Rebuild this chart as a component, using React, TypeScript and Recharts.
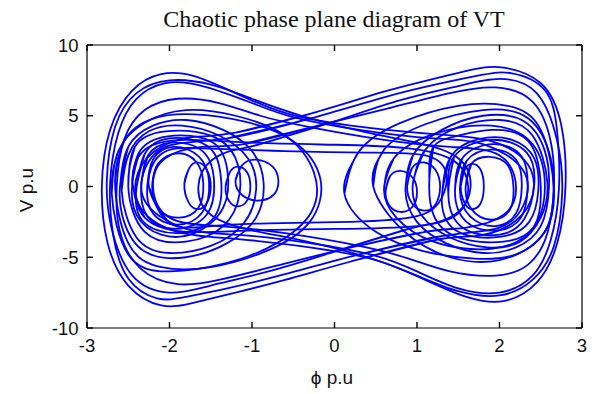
import React from 'react';
import { LineChart, Line, XAxis, YAxis } from 'recharts';

// axis ticks
const xTicks = [-3, -2, -1, 0, 1, 2, 3];
const yTicks = [-10, -5, 0, 5, 10];

// trajectory pieces read off the phase plane, [phi, V]
// left well, inner rings
const leftRing1 = [[-2.21, 0.1], [-2.14, 1.6], [-1.9, 2.35], [-1.67, 1.7], [-1.59, 0.2], [-1.65, -1.5], [-1.88, -2.2], [-2.13, -1.6], [-2.21, 0.1], [-2.14, 1.6]];
const leftRing2 = [[-2.27, 0], [-2.2, 1.9], [-1.95, 2.8], [-1.64, 2.1], [-1.52, 0.3], [-1.6, -1.8], [-1.9, -2.7], [-2.2, -1.9], [-2.27, 0], [-2.2, 1.9]];
const leftRing3 = [[-2.34, 0.2], [-2.26, 2.2], [-1.98, 3.1], [-1.6, 2.5], [-1.46, 0.4], [-1.55, -2.0], [-1.92, -3.0], [-2.27, -2.1], [-2.34, 0.2], [-2.26, 2.2]];
const leftRing4 = [[-2.4, -0.1], [-2.3, 2.3], [-2.0, 3.4], [-1.55, 2.9], [-1.38, 0.8], [-1.45, -2.1], [-1.9, -3.3], [-2.33, -2.4], [-2.4, -0.1], [-2.3, 2.3]];
const leftRing5 = [[-2.45, 0.3], [-2.36, 2.5], [-2.02, 3.55], [-1.5, 3.2], [-1.3, 1.2], [-1.35, -1.5], [-1.7, -3.3], [-2.1, -3.4], [-2.4, -2.0], [-2.45, 0.3], [-2.36, 2.5]];
const leftRing6 = [[-2.5, 0], [-2.42, 2.8], [-2.05, 3.9], [-1.5, 3.6], [-1.2, 2.0], [-1.15, -0.5], [-1.35, -2.8], [-1.8, -3.9], [-2.3, -3.2], [-2.5, 0], [-2.42, 2.8]];
// small loops near the left well
const leftSmall1 = [[-1.32, 0], [-1.27, 1.0], [-1.17, 1.4], [-1.06, 1.0], [-1.02, 0], [-1.06, -1.0], [-1.17, -1.4], [-1.28, -1.0], [-1.32, 0], [-1.27, 1.0]];
const leftSmall2 = [[-1.82, 0.2], [-1.76, 1.3], [-1.66, 1.7], [-1.55, 1.2], [-1.5, 0], [-1.55, -1.2], [-1.66, -1.6], [-1.77, -1.1], [-1.82, 0.2], [-1.76, 1.3]];
const leftSmall3 = [[-1.2, 0.4], [-1.12, 1.5], [-0.95, 1.9], [-0.75, 1.4], [-0.68, 0.4], [-0.74, -0.6], [-0.93, -1.0], [-1.12, -0.6], [-1.2, 0.4], [-1.12, 1.5]];
// right well, inner rings
const rightRing1 = [[1.59, 0], [1.66, 1.6], [1.88, 2.1], [2.1, 1.5], [2.17, -0.1], [2.12, -1.7], [1.9, -2.35], [1.66, -1.6], [1.59, 0], [1.66, 1.6]];
const rightRing2 = [[1.52, -0.2], [1.6, 1.8], [1.9, 2.6], [2.2, 1.9], [2.27, 0], [2.2, -1.9], [1.95, -2.8], [1.64, -2.1], [1.52, -0.2], [1.6, 1.8]];
const rightRing3 = [[1.46, -0.3], [1.55, 2.0], [1.92, 3.0], [2.27, 2.1], [2.34, -0.2], [2.26, -2.2], [1.98, -3.1], [1.6, -2.5], [1.46, -0.3], [1.55, 2.0]];
const rightRing4 = [[1.38, -0.6], [1.45, 2.1], [1.9, 3.3], [2.33, 2.4], [2.42, 0.1], [2.3, -2.3], [2.0, -3.4], [1.55, -2.9], [1.38, -0.6], [1.45, 2.1]];
const rightRing5 = [[1.3, -1.0], [1.4, 2.0], [1.75, 3.35], [2.15, 3.3], [2.42, 2.0], [2.47, -0.3], [2.36, -2.5], [2.02, -3.55], [1.5, -3.2], [1.3, -1.0], [1.4, 2.0]];
const rightRing6 = [[1.15, 0.5], [1.2, 2.8], [1.5, 3.6], [1.9, 4.0], [2.35, 3.2], [2.5, 0], [2.42, -2.8], [2.05, -3.9], [1.5, -3.6], [1.2, -2.0], [1.15, 0.5], [1.2, 2.8]];
// small loops near the right well
const rightSmall1 = [[0.62, -0.3], [0.67, 0.7], [0.8, 1.1], [0.95, 0.6], [1.0, -0.4], [0.95, -1.4], [0.8, -1.8], [0.66, -1.3], [0.62, -0.3], [0.67, 0.7]];
const rightSmall2 = [[0.88, 0], [0.94, 1.3], [1.08, 1.7], [1.22, 1.2], [1.28, 0], [1.22, -1.3], [1.08, -1.7], [0.94, -1.2], [0.88, 0], [0.94, 1.3]];
const rightSmall3 = [[1.53, 0], [1.58, 1.2], [1.67, 1.6], [1.77, 1.2], [1.81, 0], [1.77, -1.2], [1.67, -1.6], [1.58, -1.2], [1.53, 0], [1.58, 1.2]];
// wider single-well loops
const leftMid1 = [[-2.6, 0], [-2.5, 2.8], [-2.2, 4.3], [-1.8, 4.7], [-1.35, 4.0], [-1.0, 2.5], [-0.86, 0.3], [-0.95, -2.2], [-1.3, -4.0], [-1.8, -5.0], [-2.3, -4.6], [-2.55, -2.5], [-2.6, 0], [-2.5, 2.8]];
const leftMid2 = [[-2.66, 0.3], [-2.55, 3.2], [-2.2, 4.8], [-1.7, 5.1], [-1.1, 4.6], [-0.5, 3.2], [-0.17, 0.5], [-0.3, -2.5], [-0.8, -4.5], [-1.5, -5.7], [-2.1, -5.7], [-2.5, -4.0], [-2.66, 0.3], [-2.55, 3.2]];
const leftMid3 = [[-2.7, -0.5], [-2.62, 2.5], [-2.3, 4.5], [-1.8, 5.4], [-1.2, 5.0], [-0.6, 3.6], [-0.25, 1.0], [-0.28, -1.8], [-0.7, -4.0], [-1.3, -5.4], [-2.0, -6.0], [-2.5, -4.8], [-2.7, -0.5], [-2.62, 2.5]];
const leftMid4 = [[-2.58, -0.3], [-2.5, 2.2], [-2.25, 3.9], [-1.85, 4.3], [-1.4, 3.6], [-1.05, 2.0], [-0.95, -0.2], [-1.1, -2.6], [-1.5, -4.2], [-2.0, -4.7], [-2.4, -3.6], [-2.58, -0.3], [-2.5, 2.2]];
const rightMid1 = [[0.86, -0.3], [0.95, 2.2], [1.3, 4.0], [1.8, 5.0], [2.3, 4.6], [2.55, 2.5], [2.6, 0], [2.5, -2.8], [2.2, -4.3], [1.8, -4.7], [1.35, -4.0], [1.0, -2.5], [0.86, -0.3], [0.95, 2.2]];
const rightMid2 = [[0.12, -0.5], [0.3, 2.5], [0.8, 4.5], [1.5, 5.7], [2.1, 5.7], [2.5, 4.0], [2.66, -0.3], [2.55, -3.2], [2.2, -4.8], [1.7, -5.1], [1.1, -4.6], [0.5, -3.2], [0.12, -0.5], [0.3, 2.5]];
const rightMid3 = [[0.47, 0], [0.6, 2.6], [1.1, 4.4], [1.8, 5.4], [2.35, 4.8], [2.62, 2.0], [2.65, -1.0], [2.5, -3.6], [2.0, -5.2], [1.4, -5.0], [0.85, -3.2], [0.47, 0], [0.6, 2.6]];
const rightMid4 = [[0.6, -0.2], [0.72, 2.0], [1.2, 3.7], [1.9, 4.3], [2.4, 3.0], [2.55, 0], [2.4, -3.0], [1.9, -4.4], [1.2, -3.9], [0.75, -2.2], [0.6, -0.2], [0.72, 2.0]];
const rightMid5 = [[0.95, 0.2], [1.1, 2.6], [1.5, 4.2], [2.0, 4.7], [2.4, 3.6], [2.58, 0.3], [2.5, -2.2], [2.25, -3.9], [1.85, -4.3], [1.4, -3.6], [1.05, -2.0], [0.95, 0.2], [1.1, 2.6]];
// big swings round the left well, dropping into the right one
const swingLeft1 = [[1.2, -3.8], [0.2, -5.3], [-0.6, -6.6], [-1.2, -7.5], [-1.7, -8.2], [-2.1, -8.4], [-2.5, -7.0], [-2.75, -4.0], [-2.82, 0], [-2.72, 4.0], [-2.45, 6.8], [-2.1, 7.95], [-1.7, 7.8], [-1.2, 6.6], [-0.6, 5.2], [0.2, 4.3], [1.2, 3.7], [1.9, 3.2], [2.35, 1.5], [2.38, -1.0], [2.1, -2.8], [1.7, -3.5], [1.2, -3.8], [0.2, -5.3]];
const swingLeft2 = [[1.3, -3.5], [0.3, -4.8], [-0.6, -6.2], [-1.3, -7.2], [-1.8, -7.8], [-2.15, -7.9], [-2.5, -6.5], [-2.68, -3.5], [-2.72, 0.2], [-2.62, 3.8], [-2.4, 6.2], [-2.05, 7.3], [-1.6, 7.1], [-1.0, 5.9], [-0.5, 4.9], [0.3, 4.0], [1.2, 3.4], [1.8, 3.0], [2.28, 1.2], [2.3, -1.2], [2.0, -2.9], [1.3, -3.5], [0.3, -4.8]];
const swingLeft3 = [[1.1, -3.2], [0.2, -4.3], [-0.7, -5.6], [-1.4, -6.6], [-1.9, -6.9], [-2.35, -5.8], [-2.6, -3.2], [-2.64, 0], [-2.55, 3.3], [-2.3, 5.4], [-1.9, 6.2], [-1.4, 5.9], [-0.9, 5.0], [-0.3, 4.2], [0.6, 3.3], [1.4, 2.8], [2.0, 2.2], [2.2, 0], [2.05, -2.0], [1.6, -2.9], [1.1, -3.2], [0.2, -4.3]];
const swingLeft4 = [[0.9, -3.0], [0.0, -4.6], [-0.8, -6.0], [-1.5, -7.0], [-2.0, -7.5], [-2.45, -6.3], [-2.7, -3.0], [-2.76, 0.4], [-2.66, 4.2], [-2.4, 6.6], [-2.0, 7.5], [-1.5, 7.2], [-1.0, 6.2], [-0.4, 5.0], [0.4, 3.8], [1.0, 3.1], [1.5, 2.0], [1.65, 0], [1.5, -1.8], [1.2, -2.6], [0.9, -3.0], [0.0, -4.6]];
// big swings round the right well, dropping into the left one
const swingRight1 = [[-1.2, 3.8], [-0.2, 5.3], [0.6, 6.7], [1.2, 7.6], [1.7, 8.3], [2.05, 8.4], [2.5, 7.3], [2.75, 4.3], [2.8, 0], [2.7, -4.0], [2.45, -6.8], [2.05, -8.1], [1.6, -7.8], [1.1, -6.6], [0.5, -5.2], [-0.3, -4.3], [-1.2, -3.7], [-1.9, -3.2], [-2.35, -1.5], [-2.38, 1.0], [-2.1, 2.8], [-1.7, 3.5], [-1.2, 3.8], [-0.2, 5.3]];
const swingRight2 = [[-1.3, 3.4], [-0.3, 4.8], [0.6, 6.3], [1.3, 7.3], [1.8, 7.9], [2.15, 8.0], [2.55, 6.8], [2.7, 3.8], [2.72, -0.2], [2.62, -3.8], [2.4, -6.3], [2.0, -7.5], [1.5, -7.2], [1.0, -6.0], [0.5, -4.9], [-0.3, -4.0], [-1.2, -3.4], [-1.8, -3.0], [-2.28, -1.2], [-2.3, 1.2], [-2.0, 2.9], [-1.3, 3.4], [-0.3, 4.8]];
const swingRight3 = [[-1.1, 3.0], [-0.2, 4.3], [0.7, 5.6], [1.4, 6.6], [1.95, 7.0], [2.4, 6.0], [2.62, 3.2], [2.66, 0], [2.58, -3.3], [2.35, -5.5], [1.95, -6.3], [1.4, -6.0], [0.9, -5.1], [0.3, -4.2], [-0.6, -3.3], [-1.4, -2.8], [-2.0, -2.2], [-2.2, 0], [-2.05, 2.0], [-1.6, 2.8], [-1.1, 3.0], [-0.2, 4.3]];
const swingRight4 = [[-0.9, 3.0], [0.0, 4.6], [0.8, 6.1], [1.5, 7.1], [2.0, 7.6], [2.45, 6.6], [2.7, 3.2], [2.76, -0.4], [2.66, -4.2], [2.4, -6.6], [2.0, -7.7], [1.5, -7.4], [1.0, -6.3], [0.4, -5.0], [-0.4, -3.8], [-1.0, -3.1], [-1.5, -2.0], [-1.65, 0], [-1.5, 1.8], [-1.2, 2.6], [-0.9, 3.0], [0.0, 4.6]];
// low loops spanning both wells
const bridge1 = [[-2.3, -2.2], [-2.45, 0.3], [-2.3, 2.6], [-1.8, 3.3], [-1.0, 3.1], [0.0, 2.95], [0.9, 2.7], [1.45, 1.8], [1.62, 0], [1.5, -1.9], [1.0, -2.8], [0.0, -3.0], [-1.0, -3.1], [-1.8, -3.2], [-2.3, -2.2], [-2.45, 0.3]];
const bridge2 = [[-2.0, -2.6], [-2.25, 0], [-2.1, 2.3], [-1.6, 2.7], [-0.6, 2.5], [0.4, 2.4], [1.1, 2.2], [1.35, 1.0], [1.3, -0.8], [1.0, -2.1], [0.2, -2.5], [-0.8, -2.6], [-1.5, -2.8], [-2.0, -2.6], [-2.25, 0]];

const orbits = [
  leftRing1, leftRing2, leftRing3, leftRing4, leftRing5, leftRing6,
  leftSmall1, leftSmall2, leftSmall3,
  rightRing1, rightRing2, rightRing3, rightRing4, rightRing5, rightRing6,
  rightSmall1, rightSmall2, rightSmall3,
  leftMid1, leftMid2, leftMid3, leftMid4,
  rightMid1, rightMid2, rightMid3, rightMid4, rightMid5,
  swingLeft1, swingLeft2, swingLeft3, swingLeft4,
  swingRight1, swingRight2, swingRight3, swingRight4,
  bridge1,
];

const series = orbits.map(pts => pts.map(([x, y]) => ({ x, y })));
// drawn against the top / right frame axes so those axes get a domain
const frameSeries = bridge2.map(([x, y]) => ({ x, y }));

const TICK_LEN = 6;
const X_GAP = 17;
const Y_GAP = 14.5;
const textStyle = { fontFamily: 'Liberation Sans, Arial, sans-serif', fontSize: 18.5, fill: '#111' };
const labelFont: React.CSSProperties = {
  position: 'absolute',
  fontFamily: 'Liberation Sans, Arial, sans-serif',
  fontSize: 19,
  lineHeight: '20px',
  color: '#111',
  textAlign: 'center',
  whiteSpace: 'nowrap',
};

// MATLAB style ticks: mark points into the box, label sits outside
const BottomTick = ({ x, y, payload }: any) => (
  <g>
    <line x1={x} x2={x} y1={y - X_GAP} y2={y - X_GAP + TICK_LEN} stroke="#000" strokeWidth={1.4} />
    <text x={x} y={y} dy="0.71em" textAnchor="middle" {...textStyle}>{payload.value}</text>
  </g>
);
const LeftTick = ({ x, y, payload }: any) => (
  <g>
    <line x1={x + Y_GAP} x2={x + Y_GAP - TICK_LEN} y1={y} y2={y} stroke="#000" strokeWidth={1.4} />
    <text x={x} y={y} dy="0.355em" textAnchor="end" {...textStyle}>{payload.value}</text>
  </g>
);
const TopTick = ({ x, y }: any) => (
  <line x1={x} x2={x} y1={y - TICK_LEN} y2={y} stroke="#000" strokeWidth={1.4} />
);
const RightTick = ({ x, y }: any) => (
  <line x1={x} x2={x + TICK_LEN} y1={y} y2={y} stroke="#000" strokeWidth={1.4} />
);

export default function App() {
  return (
    <div style={{ position: 'absolute', left: 0, top: 0, width: 596, height: 394, background: '#fff' }}>
      <div
        style={{
          position: 'absolute',
          left: 134,
          top: 7,
          width: 400,
          textAlign: 'center',
          fontFamily: 'Liberation Serif, Times New Roman, serif',
          fontSize: 24,
          lineHeight: '24px',
          color: '#111',
        }}
      >
        Chaotic phase plane diagram of VT
      </div>
      <LineChart width={596} height={394} margin={{ top: 45, right: 14, bottom: 26, left: 47 }}>
        <XAxis
          type="number"
          dataKey="x"
          domain={[-3, 3]}
          ticks={xTicks}
          interval={0}
          allowDataOverflow
          height={40}
          tickSize={-TICK_LEN}
          tickMargin={X_GAP}
          tick={<BottomTick />}
          tickLine={false}
          axisLine={{ stroke: '#000', strokeWidth: 1.2 }}
        />
        <XAxis
          xAxisId="top"
          orientation="top"
          type="number"
          dataKey="x"
          domain={[-3, 3]}
          ticks={xTicks}
          interval={0}
          allowDataOverflow
          height={1}
          mirror
          tickSize={TICK_LEN}
          tickMargin={0}
          tick={<TopTick />}
          tickLine={false}
          axisLine={{ stroke: '#000', strokeWidth: 1.2 }}
        />
        <YAxis
          type="number"
          dataKey="y"
          domain={[-10, 10]}
          ticks={yTicks}
          interval={0}
          allowDataOverflow
          width={40}
          tickSize={-TICK_LEN}
          tickMargin={Y_GAP}
          tick={<LeftTick />}
          tickLine={false}
          axisLine={{ stroke: '#000', strokeWidth: 1.2 }}
        />
        <YAxis
          yAxisId="right"
          orientation="right"
          type="number"
          dataKey="y"
          domain={[-10, 10]}
          ticks={yTicks}
          interval={0}
          allowDataOverflow
          width={1}
          mirror
          tickSize={TICK_LEN}
          tickMargin={0}
          tick={<RightTick />}
          tickLine={false}
          axisLine={{ stroke: '#000', strokeWidth: 1.2 }}
        />
        {series.map((data, i) => (
          <Line
            key={`orbit-${i}`}
            name={`orbit-${i}`}
            data={data}
            dataKey="y"
            type="natural"
            dot={false}
            activeDot={false}
            stroke="#0000ff"
            strokeWidth={1.8}
            isAnimationActive={false}
          />
        ))}
        <Line
          xAxisId="top"
          yAxisId="right"
          name="orbit-frame"
          data={frameSeries}
          dataKey="y"
          type="natural"
          dot={false}
          activeDot={false}
          stroke="#0000ff"
          strokeWidth={1.8}
          isAnimationActive={false}
        />
      </LineChart>
      <div style={{ ...labelFont, left: 282, top: 368, width: 100 }}>ϕ p.u</div>
      <div style={{ ...labelFont, left: -23, top: 180, width: 100, transform: 'rotate(-90deg)' }}>V p.u</div>
    </div>
  );
}
